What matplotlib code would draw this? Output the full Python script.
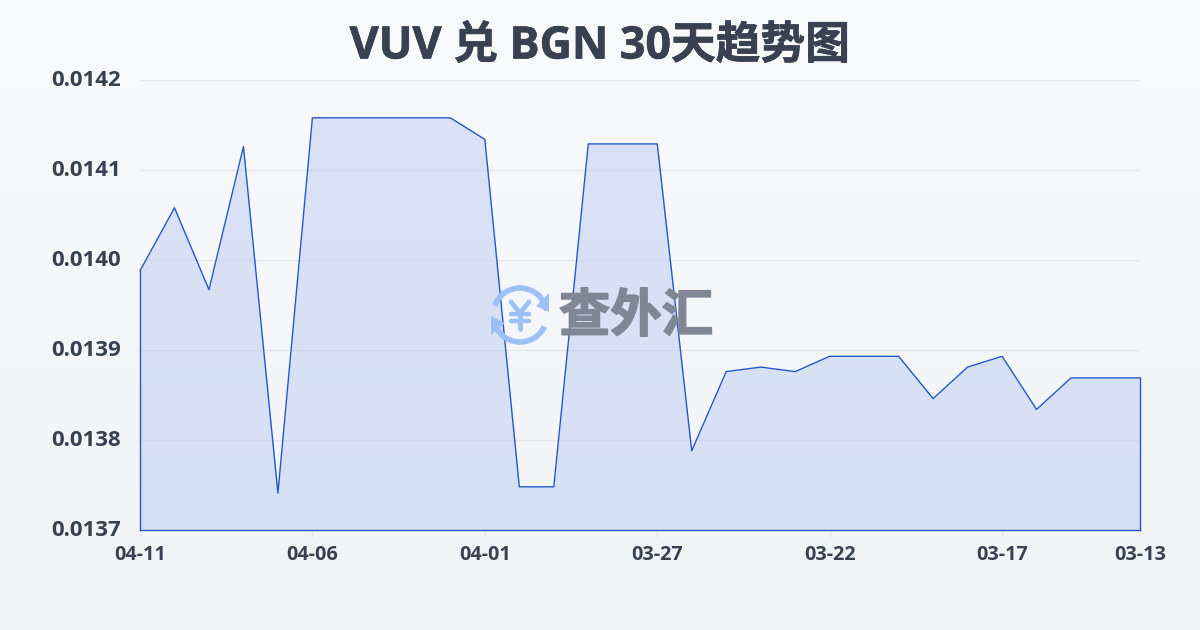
import matplotlib

matplotlib.use("Agg")
import matplotlib.pyplot as plt
import matplotlib.patheffects as pe
import matplotlib.transforms as mtrans
import numpy as np
from matplotlib.patches import Arc, Polygon

FONTS = ["Open Sans", "Noto Sans CJK SC", "DejaVu Sans"]
plt.rcParams["font.family"] = FONTS

title = "VUV 兑 BGN 30天趋势图"
watermark = "查外汇"
tick_labels = ["04-11", "04-06", "04-01", "03-27", "03-22", "03-17", "03-13"]
tick_idx = [0, 5, 10, 15, 20, 25, 29]
y_ticks = [0.0137, 0.0138, 0.0139, 0.0140, 0.0141, 0.0142]
rates = [
    0.013988, 0.014058, 0.013967, 0.014126, 0.013741, 0.014158, 0.014158, 0.014158, 0.014158, 0.014158,
    0.014134, 0.013748, 0.013748, 0.014129, 0.014129, 0.014129, 0.013788, 0.013876, 0.013881, 0.013876,
    0.013893, 0.013893, 0.013893, 0.013846, 0.013881, 0.013893, 0.013834, 0.013869, 0.013869, 0.013869,
]

W, H = 1200, 630
TEXT = "#374151"
BLUE = "#2458c8"

fig = plt.figure(figsize=(W / 100, H / 100), dpi=100)

# page background, faint vertical gradient
bg = fig.add_axes([0, 0, 1, 1], zorder=0)
grad = np.linspace(0, 1, 256)[:, None, None]
top, bottom = np.array([0.973, 0.98, 0.988]), np.array([0.945, 0.955, 0.968])
bg.imshow(top + grad * (bottom - top), aspect="auto", extent=[0, W, H, 0])
bg.set_xlim(0, W); bg.set_ylim(H, 0)
bg.axis("off")

ax = fig.add_axes([140 / W, 1 - 530 / H, 1000 / W, 450 / H], zorder=1)
ax.patch.set_alpha(0)
x = np.arange(len(rates))
ax.set_xlim(0, len(rates) - 1)
ax.set_ylim(0.0137, 0.0142)
ax.set_yticks(y_ticks)
ax.set_yticklabels([f"{v:.4f}" for v in y_ticks], fontsize=16, fontweight="bold", color=TEXT)
ax.set_xticks(tick_idx)
ax.set_xticklabels(tick_labels, fontsize=14.2, fontweight="bold", color=TEXT)
ax.tick_params(axis="y", length=0, pad=14)
ax.tick_params(axis="x", length=5, width=1, color="#e5e7eb", pad=6)
# y labels sit a little above their gridlines
shift_up = mtrans.ScaledTranslation(0, 2 / 100, fig.dpi_scale_trans)
for lab in ax.get_yticklabels():
    lab.set_transform(lab.get_transform() + shift_up)
for s in ax.spines.values():
    s.set_visible(False)
ax.grid(axis="y", color="#e4e7ec", lw=1)
ax.set_axisbelow(True)

ax.fill_between(x, rates, 0.0137, color="#b6c8f0", alpha=0.45, lw=0, zorder=2)
ax.plot(x, rates, color=BLUE, lw=1, zorder=5, clip_on=False)
ax.plot([0, 0], [0.0137, rates[0]], color=BLUE, lw=1, zorder=5, clip_on=False)
ax.plot([len(rates) - 1, len(rates) - 1], [0.0137, rates[-1]], color=BLUE, lw=1, zorder=5, clip_on=False)
ax.plot([0, len(rates) - 1], [0.0137, 0.0137], color=BLUE, lw=1, zorder=5, clip_on=False)

# watermark logo, in pixel coordinates
wm = fig.add_axes([0, 0, 1, 1], zorder=2)
wm.patch.set_alpha(0)
wm.set_xlim(0, W); wm.set_ylim(H, 0)
wm.axis("off")
LOGO = "#9cc0f8"
cx, cy = 520, 315
wm.add_patch(Arc((cx, cy), 54, 54, theta1=200, theta2=350, color=LOGO, lw=4))
wm.add_patch(Arc((cx, cy), 54, 54, theta1=25, theta2=165, color=LOGO, lw=4))
wm.add_patch(Polygon([(536, 306), (549, 293), (549, 312)], color=LOGO, lw=0))
wm.add_patch(Polygon([(491, 316), (505, 323), (491, 335)], color=LOGO, lw=0))
wm.plot([511, 520, 529], [302, 313, 302], color=LOGO, lw=3.4, solid_capstyle="round")
wm.plot([520, 520], [313, 329], color=LOGO, lw=3.4, solid_capstyle="round")
wm.plot([511, 529], [314, 314], color=LOGO, lw=3.2, solid_capstyle="round")
wm.plot([511, 529], [321, 321], color=LOGO, lw=3.2, solid_capstyle="round")
wm.text(636, 316, watermark, fontsize=37, fontweight="bold", color="#7f8694",
        ha="center", va="center", family=["Noto Sans CJK SC", "DejaVu Sans"],
        path_effects=[pe.withStroke(linewidth=1.2, foreground="#7f8694")])

fig.text(0.5, 1 - 47 / H, title, fontsize=32.2, fontweight="bold", color=TEXT, ha="center", va="center",
         path_effects=[pe.withStroke(linewidth=0.5, foreground=TEXT)])

fig.savefig("out.png", dpi=100)
plt.close(fig)
